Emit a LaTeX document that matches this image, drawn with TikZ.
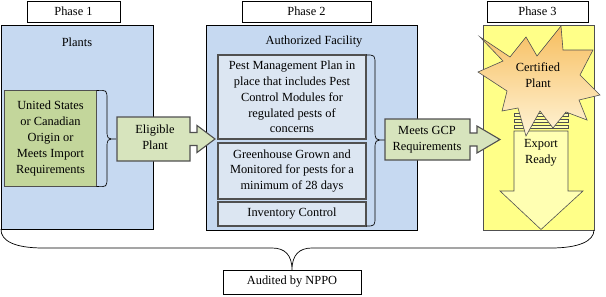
\documentclass[tikz,border=0pt]{standalone}
\usepackage{fontspec}
\setmainfont{Liberation Serif}
\definecolor{stageblue}{RGB}{198,217,241}
\definecolor{checkblue}{RGB}{220,230,242}
\definecolor{origingreen}{RGB}{195,214,155}
\definecolor{arrowgreen}{RGB}{215,228,189}
\definecolor{exportyellow}{RGB}{255,255,136}
\definecolor{readyyellow}{RGB}{255,255,178}
\definecolor{edgegrey}{RGB}{80,80,80}
\definecolor{burstorange}{RGB}{247,190,95}
\definecolor{burstlight}{RGB}{255,244,215}

\begin{document}
\begin{tikzpicture}[
    x=1pt, y=-1pt,
    every node/.style={font=\fontsize{12.4}{15.8}\selectfont, inner sep=0pt, outer sep=0pt},
    phase/.style={rectangle, draw=black, fill=white, line width=0.9pt},
    stage/.style={rectangle, draw=black, line width=1pt},
    checkbox/.style={rectangle, draw=edgegrey, fill=checkblue, line width=1.7pt, align=center},
    arrowbody/.style={draw=edgegrey, fill=arrowgreen, line width=1.1pt},
    readyarrow/.style={draw=edgegrey, fill=readyyellow, line width=0.6pt},
    burst/.style={draw=edgegrey, line width=0.6pt, top color=burstorange, bottom color=burstlight},
    bracelink/.style={draw=black, line width=0.7pt}
]
\useasboundingbox (0,0) rectangle (606,297);

\node[phase, minimum width=93pt, minimum height=21pt] (phase1) at (73.5,11.5) {Phase 1};
\node[phase, minimum width=129pt, minimum height=21pt] (phase2) at (306.5,11.5) {Phase 2};
\node[phase, minimum width=101pt, minimum height=21pt] (phase3) at (537.5,11.5) {Phase 3};

\node[stage, fill=stageblue, minimum width=152pt, minimum height=204pt] (plants) at (77,127) {};
\node[stage, fill=stageblue, minimum width=211pt, minimum height=205pt] (facility) at (311.5,127.5) {};
\node[stage, draw=edgegrey, fill=exportyellow, minimum width=111pt, minimum height=205pt] (export) at (538.5,127.5) {};

\node (plantslabel) at (77,42) {Plants};
\node (facilitylabel) at (314,42) {Authorized Facility};

\node[stage, draw=edgegrey, line width=1.7pt, fill=origingreen, minimum width=92pt, minimum height=96pt, align=center]
    (origin) at (50.5,138.5) {United States\\or Canadian\\Origin or\\Meets Import\\Requirements};

\node[checkbox, minimum width=148pt, minimum height=84pt] (pestplan) at (292,97)
    {Pest Management Plan in\\place that includes Pest\\Control Modules for\\regulated pests of\\concerns};
\node[checkbox, minimum width=148pt, minimum height=56pt] (greenhouse) at (292,171)
    {Greenhouse Grown and\\Monitored for pests for a\\minimum of 28 days};
\node[checkbox, minimum width=148pt, minimum height=24pt] (inventory) at (292,214) {Inventory Control};

\draw[bracelink] (origin.north east) .. controls (107,90) .. (107,100) -- (107,129)
    .. controls (107,139) .. (116,139) .. controls (107,139) .. (107,149) -- (107,177)
    .. controls (107,187) .. (origin.south east);
\draw[bracelink] (pestplan.north east) .. controls (375,55) .. (375,65) -- (375,130)
    .. controls (375,140) .. (385,140) .. controls (375,140) .. (375,150) -- (375,216)
    .. controls (375,226) .. (inventory.south east);

\draw[arrowbody] (117,117) -- (190,117) -- (190,132.5) -- (197,132.5) -- (197,125.5) -- (215,139)
    -- (197,152.5) -- (197,145.5) -- (190,145.5) -- (190,161) -- (117,161) -- cycle;
\node[align=center] (eligible) at (155,137.5) {Eligible\\Plant};

\draw[arrowbody] (385,119) -- (470,119) -- (470,133) -- (477,133) -- (477,126) -- (500,139.5)
    -- (477,153) -- (477,146) -- (470,146) -- (470,160) -- (385,160) -- cycle;
\node[align=center] (gcp) at (427,139.5) {Meets GCP\\Requirements};

\foreach \y in {113,119,125}
    \draw[readyarrow] (514,\y) rectangle (568,\y+3);
\draw[readyarrow] (514,131) -- (568,131) -- (568,191) -- (583,191) -- (541,229.5)
    -- (500,191) -- (514,191) -- cycle;
\node[align=center] (ready) at (541,153) {Export\\Ready};

\draw[burst] (480,37) -- (510,57) -- (526,37) -- (537,56) -- (561,26) -- (563,50) -- (593,50)
    -- (580,75) -- (600,95) -- (579,100) -- (587,120) -- (566,112) -- (553,128) -- (540,111)
    -- (526,136) -- (518,108) -- (502,111) -- (507,91) -- (478,72) -- (503,61) -- cycle;
\node[align=center] (certified) at (538,75.5) {Certified\\Plant};

\node[phase, minimum width=138pt, minimum height=24pt] (audit) at (292,282) {Audited by NPPO};

\draw[bracelink] (plants.south west) .. controls (0.5,241) and (15,248) .. (43,248) -- (272,248)
    .. controls (285,248) and (292,255) .. (audit.north) .. controls (292,255) and (299,248) .. (312,248)
    -- (551,248) .. controls (579,248) and (594,241) .. (export.south east);
\end{tikzpicture}
\end{document}
